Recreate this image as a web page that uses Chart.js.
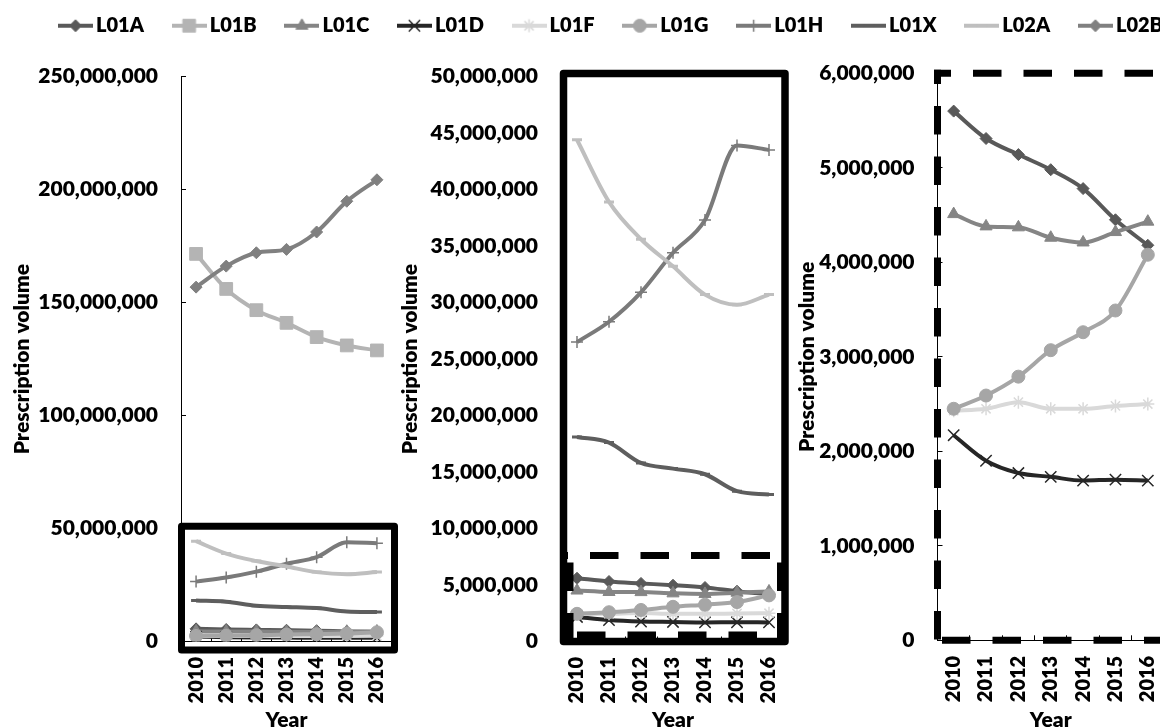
<!DOCTYPE html>
<html>
<head>
<meta charset="utf-8">
<title>Prescription volume by ATC group, 2010–2016</title>
<script src="https://cdn.jsdelivr.net/npm/chart.js@4/dist/chart.umd.min.js"></script>
<style>
  html, body { margin: 0; padding: 0; background: #fff; overflow: hidden; }
  #page { position: relative; width: 1160px; height: 728px; overflow: hidden; background: #fff; }
  #page canvas { position: absolute; }
</style>
</head>
<body>
<div id="page">
  <canvas id="legend"></canvas>
  <canvas id="p1"></canvas>
  <canvas id="p2"></canvas>
  <canvas id="p3"></canvas>
</div>
<script>
// ---- data -------------------------------------------------------------
const years = ['2010', '2011', '2012', '2013', '2014', '2015', '2016'];

const L01A = [5.60e6, 5.31e6, 5.14e6, 4.98e6, 4.78e6, 4.45e6, 4.18e6];
const L01B = [171.5e6, 156.0e6, 146.6e6, 141.0e6, 134.7e6, 131.0e6, 128.8e6];
const L01C = [4.51e6, 4.38e6, 4.37e6, 4.26e6, 4.21e6, 4.32e6, 4.43e6];
const L01D = [2.17e6, 1.90e6, 1.77e6, 1.73e6, 1.69e6, 1.70e6, 1.69e6];
const L01F = [2.43e6, 2.45e6, 2.52e6, 2.45e6, 2.45e6, 2.48e6, 2.50e6];
const L01G = [2.45e6, 2.59e6, 2.79e6, 3.07e6, 3.26e6, 3.49e6, 4.08e6];
const L01H = [26.5e6, 28.3e6, 30.9e6, 34.4e6, 37.3e6, 43.9e6, 43.5e6];
const L01X = [18.1e6, 17.6e6, 15.8e6, 15.3e6, 14.8e6, 13.3e6, 13.0e6];
const L02A = [44.4e6, 38.9e6, 35.6e6, 33.2e6, 30.7e6, 29.8e6, 30.7e6];
const L02B = [156.8e6, 166.1e6, 172.0e6, 173.5e6, 181.2e6, 194.8e6, 204.3e6];

const seriesNames = ['L01A', 'L01B', 'L01C', 'L01D', 'L01F', 'L01G', 'L01H', 'L01X', 'L02A', 'L02B'];
const seriesValues = { L01A, L01B, L01C, L01D, L01F, L01G, L01H, L01X, L02A, L02B };

// y-axis tick labels of the three panels
const ticksFull = [0, 50e6, 100e6, 150e6, 200e6, 250e6];
const ticksMid = [0, 5e6, 10e6, 15e6, 20e6, 25e6, 30e6, 35e6, 40e6, 45e6, 50e6];
const ticksLow = [0, 1e6, 2e6, 3e6, 4e6, 5e6, 6e6];

// ---- styling ----------------------------------------------------------
const seriesStyle = {
  L01A: { color: '#595959', point: 'rectRot',  r: 6,   mw: 1 },
  L01B: { color: '#b4b4b4', point: 'rect',     r: 9,   mw: 1 },
  L01C: { color: '#858585', point: 'triangle', r: 7,   mw: 1 },
  L01D: { color: '#262626', point: 'crossRot', r: 8,   mw: 1.5 },
  L01F: { color: '#d9d9d9', point: 'star',     r: 6.5, mw: 1.5 },
  L01G: { color: '#a6a6a6', point: 'circle',   r: 6.5, mw: 1 },
  L01H: { color: '#7a7a7a', point: 'cross',    r: 6,   mw: 1.5 },
  L01X: { color: '#5e5e5e', point: 'line',     r: 5,   mw: 3 },
  L02A: { color: '#bfbfbf', point: 'line',     r: 5,   mw: 3 },
  L02B: { color: '#808080', point: 'rectRot',  r: 6,   mw: 1 }
};

const FONT = 'Lato, "Open Sans", "DejaVu Sans", sans-serif';
const WEIGHT = 800;
Chart.defaults.font.family = FONT;
Chart.defaults.font.size = 21;
Chart.defaults.font.weight = WEIGHT;
Chart.defaults.color = '#000';

function makeDatasets() {
  return seriesNames.map((name, i) => {
    const st = seriesStyle[name];
    return {
      label: name,
      data: seriesValues[name],
      borderColor: st.color,
      backgroundColor: st.color,
      borderWidth: 4,
      cubicInterpolationMode: 'monotone',
      pointStyle: st.point,
      pointRadius: st.r,
      pointBorderWidth: st.mw,
      pointBackgroundColor: st.color,
      pointBorderColor: st.color,
      order: seriesNames.length - i
    };
  });
}

// ---- frame / zoom-box overlays ----------------------------------------
function dashed(ctx, x0, y0, x1, y1, offset) {
  ctx.setLineDash([28.5, 22]);
  ctx.lineDashOffset = offset;
  ctx.beginPath();
  ctx.moveTo(x0, y0);
  ctx.lineTo(x1, y1);
  ctx.stroke();
}

const overlays = {
  // solid box around the low-volume part of the full-range panel
  p1(ctx, a, y) {
    ctx.lineWidth = 7;
    ctx.lineJoin = 'round';
    const top = y.getPixelForValue(51e6);
    const left = a.left + 0.5, right = a.right + 2.5, bottom = a.bottom + 8.5;
    ctx.strokeRect(left, top, right - left, bottom - top);
  },
  // solid frame round the whole middle panel, dashed box round its lowest band
  p2(ctx, a, y) {
    ctx.lineWidth = 7.5;
    ctx.lineJoin = 'round';
    const fl = a.left + 2.5, ft = a.top - 3;
    ctx.strokeRect(fl, ft, a.right - fl, a.bottom - ft);
    ctx.lineWidth = 7;
    const t = y.getPixelForValue(7.6e6), b = a.bottom - 6.5, l = a.left + 9, r = a.right - 4.5;
    dashed(ctx, l - 3.5, t, r + 3.5, t, 27);
    dashed(ctx, l - 3.5, b, r + 3.5, b, 40);
    dashed(ctx, l, t - 3.5, l, b + 3.5, 40);
    dashed(ctx, r, t - 3.5, r, b + 3.5, 40);
  },
  // dashed frame round the low-range panel
  p3(ctx, a) {
    ctx.lineWidth = 7;
    dashed(ctx, a.left, a.bottom + 3.5, a.left, a.top - 3.5, 46.2);
    dashed(ctx, a.left - 3.5, a.top, a.right + 3.5, a.top, 11.5);
    dashed(ctx, a.left - 3.5, a.bottom, a.right + 3.5, a.bottom, 42.5);
    dashed(ctx, a.right, a.top - 3.5, a.right, a.bottom + 3.5, 11.5);
  }
};

const overlayPlugin = {
  id: 'panelOverlay',
  afterDraw(chart) {
    const fn = overlays[chart.canvas.id];
    if (!fn) return;
    const ctx = chart.ctx;
    ctx.save();
    ctx.strokeStyle = '#000';
    ctx.lineCap = 'butt';
    fn(ctx, chart.chartArea, chart.scales.y);
    ctx.restore();
  }
};

// ---- panels -----------------------------------------------------------
function placeCanvas(id, left, top, width, height) {
  const c = document.getElementById(id);
  c.width = width;
  c.height = height;
  c.style.left = left + 'px';
  c.style.top = top + 'px';
  c.style.width = width + 'px';
  c.style.height = height + 'px';
  return c;
}

function panel(id, geo, tickValues) {
  const canvas = placeCanvas(id, geo.left, 0, geo.width, 728);
  return new Chart(canvas, {
    type: 'line',
    data: { labels: years, datasets: makeDatasets() },
    options: {
      responsive: false,
      animation: false,
      events: [],
      layout: { padding: { top: geo.padTop, right: geo.padRight, bottom: 0, left: 0 } },
      plugins: { legend: { display: false }, tooltip: { enabled: false } },
      scales: {
        x: {
          offset: true,
          grid: { offset: true, drawOnChartArea: false, tickLength: -5, color: '#000', lineWidth: 1 },
          border: { color: '#000', width: 1 },
          ticks: { minRotation: 90, maxRotation: 90, autoSkip: false, padding: 20.5, color: '#000', font: { size: 20 } },
          title: { display: true, text: 'Year', color: '#000', padding: { top: 0, bottom: -4.5 } },
          afterFit(s) {
            s.height = geo.axisH;
            s.paddingLeft = 0;
            s.paddingRight = 0;
          }
        },
        y: {
          min: tickValues[0],
          max: tickValues[tickValues.length - 1],
          afterBuildTicks(s) { s.ticks = tickValues.map(v => ({ value: v })); },
          grid: { drawOnChartArea: false, tickLength: -5, color: '#000', lineWidth: 1 },
          border: { color: '#000', width: 1 },
          ticks: { padding: 28, color: '#000', callback: v => Number(v).toLocaleString('en-US') },
          title: { display: true, text: 'Prescription volume', color: '#000', padding: { top: 9.5, bottom: 0 } },
          afterFit(s) {
            s.width = geo.axisW;
            s.paddingTop = 0;
            s.paddingBottom = 0;
          }
        }
      }
    },
    plugins: [overlayPlugin]
  });
}

// ---- legend -----------------------------------------------------------
function legendSymbol(st) {
  const c = document.createElement('canvas');
  c.width = 35;
  c.height = 22;
  const g = c.getContext('2d');
  g.strokeStyle = st.color;
  g.fillStyle = st.color;
  g.lineWidth = 4;
  g.beginPath();
  g.moveTo(0, 11);
  g.lineTo(35, 11);
  g.stroke();
  g.lineWidth = st.mw;
  const opts = { pointStyle: st.point, radius: st.r, rotation: 0, borderWidth: st.mw };
  if (Chart.helpers && Chart.helpers.drawPoint) {
    Chart.helpers.drawPoint(g, opts, 17.5, 11);
  }
  return c;
}

function legendChart() {
  const canvas = placeCanvas('legend', -36, -18.7, 1300, 110);
  const symbols = seriesNames.map(n => legendSymbol(seriesStyle[n]));
  return new Chart(canvas, {
    type: 'line',
    data: { labels: years, datasets: seriesNames.map(n => ({ label: n, data: [] })) },
    options: {
      responsive: false,
      animation: false,
      events: [],
      scales: { x: { display: false }, y: { display: false } },
      plugins: {
        tooltip: { enabled: false },
        legend: {
          display: true,
          position: 'top',
          align: 'center',
          labels: {
            usePointStyle: true,
            pointStyleWidth: 21,
            padding: 34.7,
            color: '#000',
            font: { family: FONT, size: 20, weight: WEIGHT },
            generateLabels: () => seriesNames.map((n, i) => ({
              text: n,
              pointStyle: symbols[i],
              fillStyle: seriesStyle[n].color,
              strokeStyle: seriesStyle[n].color,
              lineWidth: 0,
              hidden: false,
              datasetIndex: i,
              fontColor: '#000'
            }))
          }
        }
      }
    }
  });
}

function build() {
  legendChart();
  panel('p1', { left: 0,   width: 402, padTop: 76.5, padRight: 6, axisW: 181,   axisH: 86.5 }, ticksFull);
  panel('p2', { left: 388, width: 407, padTop: 76.5, padRight: 6, axisW: 173,   axisH: 86.5 }, ticksMid);
  panel('p3', { left: 785, width: 389, padTop: 73.3, padRight: 6, axisW: 152.5, axisH: 87.7 }, ticksLow);
}

const fontsReady = (document.fonts && document.fonts.load)
  ? Promise.all([
      document.fonts.load(WEIGHT + ' 20px Lato'),
      document.fonts.load(WEIGHT + ' 21px Lato')
    ]).catch(() => {})
  : Promise.resolve();
fontsReady.then(build, build);
</script>
</body>
</html>
